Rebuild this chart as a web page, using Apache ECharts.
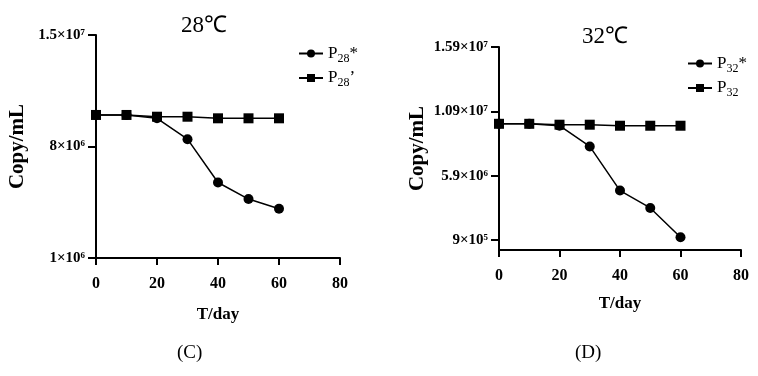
<!DOCTYPE html>
<html>
<head>
<meta charset="utf-8">
<script src="https://cdn.jsdelivr.net/npm/echarts@6/dist/echarts.min.js"></script>
<style>
  html, body { margin: 0; padding: 0; background: #fff; }
  #main { width: 758px; height: 376px; }
</style>
</head>
<body>
<div id="main"></div>
<script>
// data
const days = [0, 10, 20, 30, 40, 50, 60];
const p28Star = [9.98e6, 9.98e6, 9.77e6, 8.46e6, 5.74e6, 4.70e6, 4.09e6];
const p28Prime = [9.98e6, 9.98e6, 9.87e6, 9.87e6, 9.77e6, 9.77e6, 9.77e6];
const p32Star = [9.93e6, 9.93e6, 9.78e6, 8.17e6, 4.74e6, 3.39e6, 1.11e6];
const p32Plain = [9.93e6, 9.93e6, 9.86e6, 9.86e6, 9.78e6, 9.78e6, 9.78e6];
const leftYTicks = [1e6, 8e6, 1.5e7];
const rightYTicks = [9e5, 5.9e6, 1.09e7, 1.59e7];
const xTicks = [0, 20, 40, 60, 80];

const serif = 'Liberation Serif';
const sup = { '5': '⁵', '6': '⁶', '7': '⁷' };

function sci(v) {
  const e = Math.floor(Math.log10(v) + 1e-9);
  const m = +(v / Math.pow(10, e)).toFixed(2);
  return m + '×10' + sup[String(e)];
}

function xAxis(gi, gap) {
  return {
    gridIndex: gi, type: 'value', min: 0, max: 80, interval: 20,
    name: 'T/day', nameLocation: 'middle', nameGap: gap,
    nameTextStyle: { fontFamily: serif, fontWeight: 'bold', fontSize: 17, color: '#000' },
    axisLine: { lineStyle: { color: '#000', width: 2 } },
    axisTick: { show: true, length: 7, lineStyle: { color: '#000', width: 2 } },
    axisLabel: { fontFamily: serif, fontWeight: 'bold', fontSize: 16, color: '#000', margin: 18,
      customValues: xTicks },
    splitLine: { show: false }
  };
}

function yAxis(gi, min, max, ticks, gap) {
  return {
    gridIndex: gi, type: 'value', min: min, max: max,
    name: 'Copy/mL', nameLocation: 'middle', nameGap: gap, nameRotate: 90,
    nameTextStyle: { fontFamily: serif, fontWeight: 'bold', fontSize: 21, color: '#000' },
    axisLine: { show: true, lineStyle: { color: '#000', width: 2 } },
    axisTick: { show: true, length: 8, lineStyle: { color: '#000', width: 2 }, customValues: ticks },
    axisLabel: { fontFamily: serif, fontWeight: 'bold', fontSize: 15, color: '#000', margin: 11,
      customValues: ticks, formatter: sci },
    splitLine: { show: false }
  };
}

function line(name, data, gi, symbol) {
  return {
    name: name, type: 'line', xAxisIndex: gi, yAxisIndex: gi,
    data: days.map((d, i) => [d, data[i]]),
    symbol: symbol, symbolSize: 10,
    lineStyle: { color: '#000', width: 1.5 },
    itemStyle: { color: '#000' },
    emphasis: { disabled: true }
  };
}

const legendNames = {
  'P28*': 'P{s|28}*', "P28'": "P{s|28}’",
  'P32*': 'P{s|32}*', 'P32': 'P{s|32}'
};
function legend(names, left, top) {
  return {
    data: names, orient: 'vertical', left: left, top: top,
    itemWidth: 24, itemHeight: 10, itemGap: 5,
    formatter: n => legendNames[n],
    textStyle: { fontFamily: serif, fontSize: 17, color: '#000',
      rich: { s: { fontFamily: serif, fontSize: 12, color: '#000', padding: [10, 0, 0, 0] } } }
  };
}

const chart = echarts.init(document.getElementById('main'));
chart.setOption({
  backgroundColor: '#fff',
  animation: false,
  title: [
    { text: '28℃', left: 199, top: 9, textAlign: 'center',
      textStyle: { fontFamily: serif, fontWeight: 'normal', fontSize: 23, color: '#000' } },
    { text: '32℃', left: 600, top: 20, textAlign: 'center',
      textStyle: { fontFamily: serif, fontWeight: 'normal', fontSize: 23, color: '#000' } }
  ],
  legend: [
    legend(['P28*', "P28'"], 293, 40),
    legend(['P32*', 'P32'], 682, 50)
  ],
  grid: [
    { left: 96, top: 35, width: 244, height: 223 },
    { left: 499, top: 47, width: 242, height: 203 }
  ],
  xAxis: [xAxis(0, 48), xAxis(1, 45)],
  yAxis: [
    yAxis(0, 1e6, 1.5e7, leftYTicks, 68),
    yAxis(1, 1.2e5, 1.59e7, rightYTicks, 71)
  ],
  series: [
    line('P28*', p28Star, 0, 'circle'),
    line("P28'", p28Prime, 0, 'rect'),
    line('P32*', p32Star, 1, 'circle'),
    line('P32', p32Plain, 1, 'rect')
  ],
  graphic: [
    { type: 'text', left: 177, top: 344, style: { text: '(C)', font: '19px "Liberation Serif"', fill: '#000' } },
    { type: 'text', left: 575, top: 344, style: { text: '(D)', font: '19px "Liberation Serif"', fill: '#000' } }
  ]
});
</script>
</body>
</html>
